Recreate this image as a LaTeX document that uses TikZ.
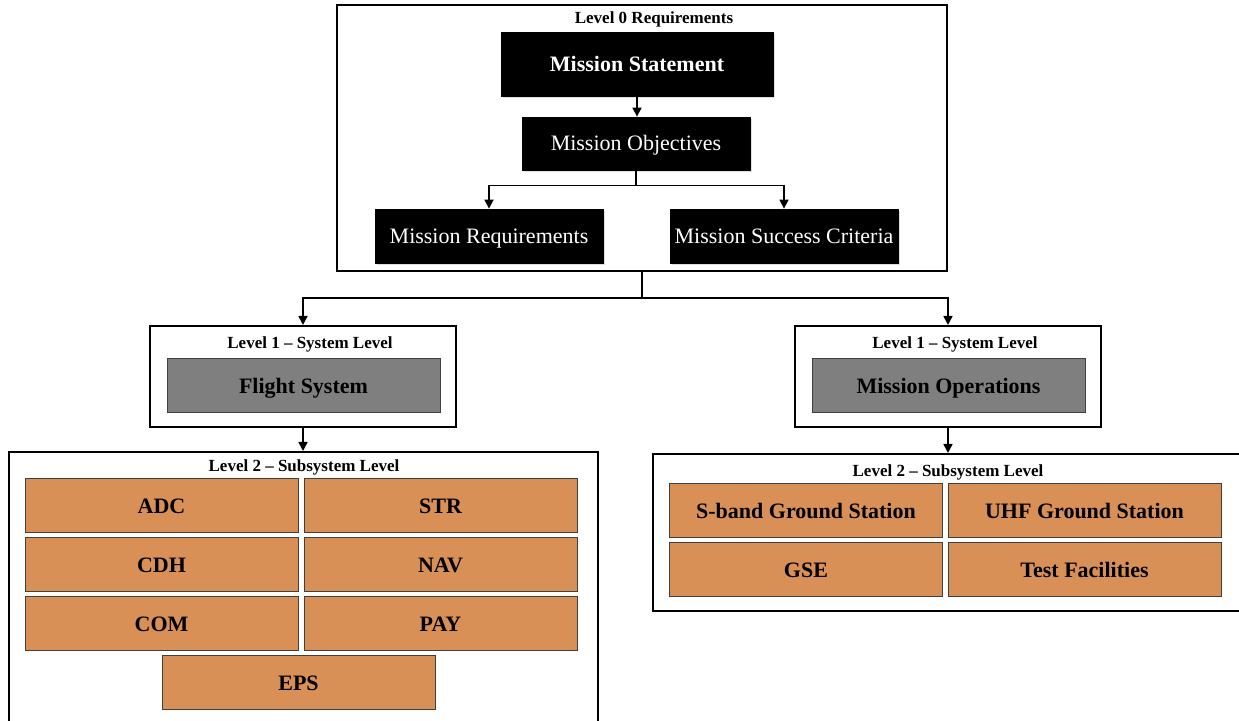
\documentclass[tikz,border=0pt]{standalone}
\usepackage{fontspec}
\setmainfont{Liberation Serif}
\usetikzlibrary{arrows.meta,shadows}
\definecolor{SubOrange}{RGB}{217,144,87}
\definecolor{SysGray}{RGB}{127,127,127}
\newcommand\Frame[5]{%
    \node[frame,minimum width=#4*0.5pt,minimum height=#5*0.5pt] (#1) at (#2,#3) {};
}
\tikzset{
    frame/.style={draw,line width=1pt,fill=white,inner sep=0pt},
    title/.style={font=\fontsize{8.5}{10}\selectfont\bfseries,inner sep=0pt,
        text height=5.8pt,text depth=0.2pt},
    blk/.style={draw=black,fill=black,text=white,inner sep=0pt,
        font=\fontsize{11}{13}\selectfont,minimum width=114pt,minimum height=27pt,
        text height=7.6pt,text depth=0.4pt,
        drop shadow={shadow xshift=1.2pt,shadow yshift=-1.2pt,opacity=0.25}},
    sys/.style={draw=black!75,line width=0.5pt,fill=SysGray,inner sep=0pt,
        font=\fontsize{11}{13}\selectfont\bfseries,minimum width=136.5pt,minimum height=27pt,
        text height=7.6pt,text depth=0.4pt},
    sub/.style={sys,fill=SubOrange},
    conn/.style={line width=0.8pt,-{Triangle[length=4.5pt,width=4.5pt]}},
}

\begin{document}
\begin{tikzpicture}[x=0.5pt,y=-0.5pt]
    \useasboundingbox (0,0) rectangle (1239,721);
    % Level 0
    \Frame{Lvl0}{642}{138}{610}{266}
    \node[title] (Lvl0Title) at (654,18) {Level 0 Requirements};
    \node[blk,minimum width=136pt,minimum height=32pt,font=\fontsize{11}{13}\selectfont\bfseries] (MS) at (637,64) {Mission Statement};
    \node[blk,minimum height=26.5pt] (MO) at (636,143.5) {Mission Objectives};
    \node[blk] (MR) at (489,236) {Mission Requirements};
    \node[blk] (MSC) at (784,236) {Mission Success Criteria};
    \draw[conn] (MS.south) -- (MS.south |- MO.north);
    \draw[conn] (MO.south) -- ++(0,15) -| (MR.north);
    \draw[conn] (MO.south) -- ++(0,15) -| (MSC.north);
    % Level 1
    \Frame{SysFrameA}{303}{376.5}{306}{101}
    \node[title] (SysTitleA) at (310,343) {Level 1 -- System Level};
    \node[sys] (Flight) at (303.5,386) {Flight System};
    \Frame{SysFrameB}{948}{376.5}{306}{101}
    \node[title] (SysTitleB) at (955,343) {Level 1 -- System Level};
    \node[sys] (Ops) at (948.5,386) {Mission Operations};
    \draw[conn] (Lvl0.south) -- ++(0,26) -| (SysFrameA.north);
    \draw[conn] (Lvl0.south) -- ++(0,26) -| (SysFrameB.north);
    % Level 2
    \Frame{SubFrameA}{303.5}{592}{589}{280}
    \node[title] (SubTitleA) at (304,466) {Level 2 -- Subsystem Level};
    \node[sub] (ADC) at (161.5,506) {ADC};
    \node[sub] (STR) at (440.5,506) {STR};
    \node[sub] (CDH) at (161.5,565) {CDH};
    \node[sub] (NAV) at (440.5,565) {NAV};
    \node[sub] (COM) at (161.5,624) {COM};
    \node[sub] (PAY) at (440.5,624) {PAY};
    \node[sub] (EPS) at (298.5,683) {EPS};
    \Frame{SubFrameB}{951.5}{532.5}{597}{157}
    \node[title] (SubTitleB) at (948,471) {Level 2 -- Subsystem Level};
    \node[sub] (SBand) at (806,511) {S-band Ground Station};
    \node[sub] (UHF) at (1084.5,511) {UHF Ground Station};
    \node[sub] (GSE) at (806,570) {GSE};
    \node[sub] (Test) at (1084.5,570) {Test Facilities};
    \draw[conn] (SysFrameA.south) -- (SysFrameA.south |- SubFrameA.north);
    \draw[conn] (SysFrameB.south) -- (SysFrameB.south |- SubFrameB.north);
\end{tikzpicture}
\end{document}
